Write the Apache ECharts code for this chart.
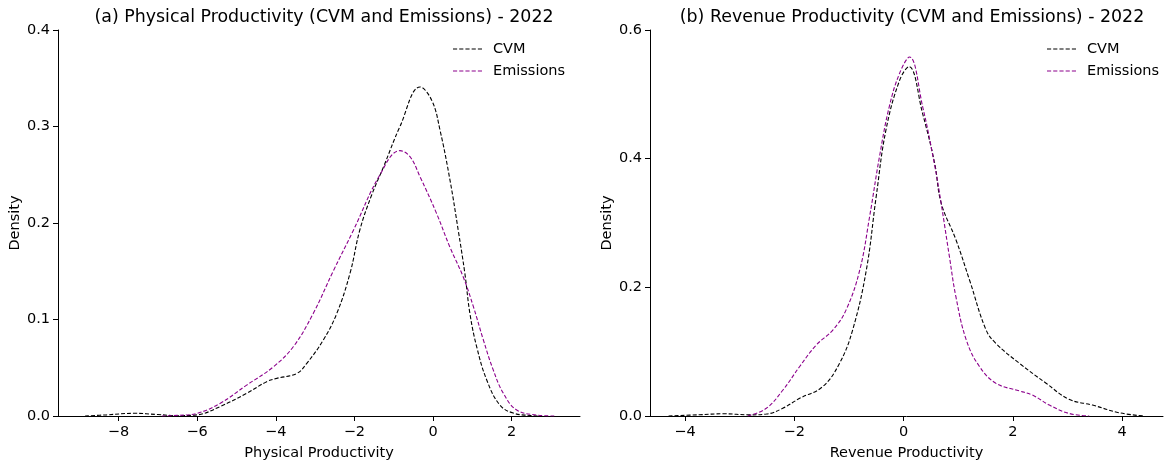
<!DOCTYPE html>
<html>
<head>
<meta charset="utf-8">
<script src="https://cdn.jsdelivr.net/npm/echarts@6/dist/echarts.min.js"></script>
<style>html,body{margin:0;padding:0;background:#fff}#c{width:1164px;height:463px}</style>
</head>
<body>
<div id="c"></div>
<script>
// ---- data ----
const titles = ['(a) Physical Productivity (CVM and Emissions) - 2022', '(b) Revenue Productivity (CVM and Emissions) - 2022'];
const xNames = ['Physical Productivity', 'Revenue Productivity'];
const seriesNames = ['CVM', 'Emissions'];
const xTicksA = [-8, -6, -4, -2, 0, 2];
const xTicksB = [-4, -2, 0, 2, 4];

const physCvmX = [-8.85,-8.3,-7.6,-7.0,-6.5,-6.0,-5.42,-4.74,-4.23,-3.98,-3.47,-3.21,-2.79,-2.45,-2.11,-1.86,-1.56,-1.26,-0.84,-0.33,-0.03,0.18,0.43,0.64,0.81,0.94,1.11,1.37,1.70,2.04,2.47,2.7];
const physCvmY = [0,0.0012,0.0028,0.0015,0.0003,0.0012,0.0097,0.0235,0.0356,0.039,0.044,0.0546,0.0788,0.106,0.148,0.193,0.229,0.258,0.30,0.341,0.327,0.296,0.245,0.193,0.148,0.106,0.072,0.037,0.0114,0.003,0.0005,0];

const physEmX = [-6.9,-6.5,-6.0,-5.42,-4.74,-4.06,-3.55,-3.05,-2.54,-2.03,-1.35,-0.84,-0.59,-0.33,0.09,0.43,0.77,1.03,1.28,1.53,1.79,2.13,2.64,3.1];
const physEmY = [0,0.0006,0.0028,0.013,0.032,0.051,0.072,0.106,0.150,0.192,0.25,0.275,0.269,0.248,0.21,0.175,0.144,0.113,0.079,0.048,0.0235,0.0062,0.001,0];

const revCvmX = [-4.3,-3.73,-3.3,-2.82,-2.51,-2.21,-1.90,-1.48,-1.17,-0.93,-0.68,-0.50,-0.32,-0.07,0.10,0.35,0.57,0.69,0.96,1.21,1.51,1.69,2.12,2.61,3.03,3.46,3.95,4.4];
const revCvmY = [0,0.002,0.0035,0.0018,0.003,0.012,0.0275,0.0456,0.082,0.134,0.227,0.341,0.445,0.522,0.543,0.47,0.393,0.331,0.274,0.211,0.134,0.113,0.082,0.051,0.026,0.017,0.005,0];

const revEmX = [-2.85,-2.51,-2.21,-1.90,-1.60,-1.29,-1.05,-0.80,-0.62,-0.44,-0.26,-0.07,0.11,0.35,0.57,0.69,0.84,0.96,1.15,1.39,1.69,2.12,2.36,2.67,3.03,3.4];
const revEmY = [0,0.012,0.040,0.077,0.11,0.134,0.165,0.227,0.31,0.403,0.481,0.533,0.558,0.481,0.39,0.33,0.248,0.185,0.118,0.077,0.051,0.039,0.0326,0.017,0.004,0];

// ---- build ----
const zip = (xs, ys) => xs.map((x, i) => [x, ys[i]]);
const FONT = 'DejaVu Sans';
const FS = 14.5;
const colors = ['#000000', '#8c008c'];
const minus = v => String(v).replace('-', '\u2212');
const dashIcon = 'path://M0,0h4v1h-4z M6,0h4v1h-4z M12,0h4v1h-4z M18,0h4v1h-4z M24,0h4v1h-4z';

function xAxis(idx, min, max, ticks, name) {
  return {
    type: 'value', gridIndex: idx, min: min, max: max,
    name: name, nameLocation: 'middle', nameGap: 30,
    nameTextStyle: { fontFamily: FONT, fontSize: FS, color: '#000' },
    axisLine: { show: true, onZero: false, lineStyle: { color: '#000', width: 1 } },
    axisTick: { show: true, length: 5, lineStyle: { color: '#000' }, customValues: ticks },
    axisLabel: { fontFamily: FONT, fontSize: FS, color: '#000', margin: 9, customValues: ticks, formatter: v => minus(v) },
    splitLine: { show: false }
  };
}
function yAxis(idx, max, interval) {
  return {
    type: 'value', gridIndex: idx, min: 0, max: max, interval: interval,
    name: 'Density', nameLocation: 'middle', nameGap: 35,
    nameTextStyle: { fontFamily: FONT, fontSize: FS, color: '#000' },
    axisLine: { show: true, onZero: false, lineStyle: { color: '#000', width: 1 } },
    axisTick: { show: true, length: 5, lineStyle: { color: '#000' } },
    axisLabel: { fontFamily: FONT, fontSize: FS, color: '#000', margin: 8, formatter: v => v.toFixed(1) },
    splitLine: { show: false }
  };
}
function line(name, idx, data, color) {
  return {
    name: name, type: 'line', xAxisIndex: idx, yAxisIndex: idx,
    data: data, smooth: 0.4, showSymbol: false, symbol: 'none',
    lineStyle: { color: color, width: 1.1, type: [4, 2] },
    itemStyle: { color: color }, silent: true, animation: false
  };
}
function legend(left) {
  return {
    data: seriesNames, orient: 'vertical', left: left, top: 36,
    icon: dashIcon, itemWidth: 29, itemHeight: 1.3, itemGap: 6,
    textStyle: { fontFamily: FONT, fontSize: FS, color: '#000', lineHeight: 16, padding: [0, 0, 0, 6] }
  };
}

const chart = echarts.init(document.getElementById('c'), null, { renderer: 'canvas' });
chart.setOption({
  animation: false,
  backgroundColor: '#fff',
  title: [
    { text: titles[0], left: 319, top: 4, textAlign: 'center', textStyle: { fontFamily: FONT, fontSize: 17.4, fontWeight: 'normal', color: '#000' } },
    { text: titles[1], left: 907, top: 4, textAlign: 'center', textStyle: { fontFamily: FONT, fontSize: 17.4, fontWeight: 'normal', color: '#000' } }
  ],
  legend: [ legend(448), legend(1042) ],
  grid: [
    { left: 58, top: 30, width: 522, height: 386, outerBoundsMode: 'none', containLabel: false },
    { left: 650, top: 30, width: 513, height: 386, outerBoundsMode: 'none', containLabel: false }
  ],
  xAxis: [
    xAxis(0, -9.54, 3.74, xTicksA, xNames[0]),
    xAxis(1, -4.64, 4.75, xTicksB, xNames[1])
  ],
  yAxis: [ yAxis(0, 0.4, 0.1), yAxis(1, 0.6, 0.2) ],
  series: [
    line(seriesNames[0], 0, zip(physCvmX, physCvmY), colors[0]),
    line(seriesNames[1], 0, zip(physEmX, physEmY), colors[1]),
    line(seriesNames[0], 1, zip(revCvmX, revCvmY), colors[0]),
    line(seriesNames[1], 1, zip(revEmX, revEmY), colors[1])
  ]
});
</script>
</body>
</html>
